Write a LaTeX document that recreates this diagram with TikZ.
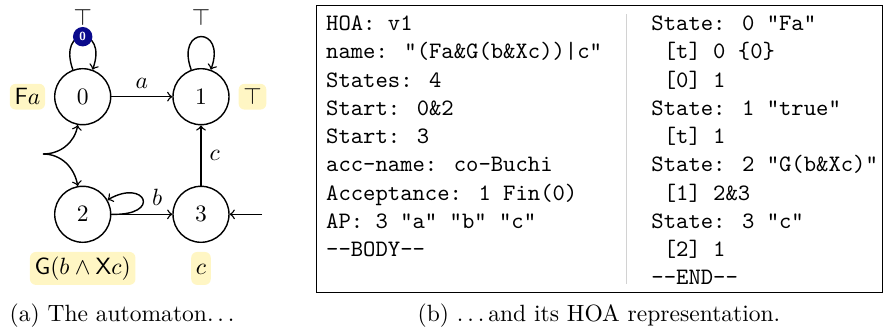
\documentclass[tikz,border=0pt]{standalone}
\usepackage{amssymb}
\usetikzlibrary{
    arrows,
    calc,
    positioning
}
\definecolor{hilite}{RGB}{255,246,196}
\definecolor{accblue}{RGB}{10,10,140}
\newcommand{\hoadash}{-\kern0pt-}
\newcommand{\spdots}{.\kern\fontdimen3\font.\kern\fontdimen3\font.\kern\fontdimen3\font}

\begin{document}
\begin{tikzpicture}[x=0.425pt, y=-0.425pt,
    state/.style={draw, circle, minimum size=23.8pt, inner sep=0pt},
    hl/.style={fill=hilite, rounded corners=2.5pt, inner sep=2pt},
    accmark/.style={circle, fill=accblue, text=white, inner sep=1.3pt, font=\sffamily\bfseries\tiny},
    hoa/.style={anchor=north west, inner sep=0pt, align=left, font=\ttfamily}]
    \useasboundingbox (0, 0) rectangle (883, 331);
    \begin{scope}[semithick]
        \node[state] (s0) at (82.7, 96.7) {$0$};
        \node[state] (s1) at (201, 96.7) {$1$};
        \node[state] (s2) at (82.7, 214.3) {$2$};
        \node[state] (s3) at (201, 214.3) {$3$};
        \node[hl, left=3.5pt of s0] (l0) {$\mathsf{F}a$};
        \node[hl, right=3.5pt of s1] (l1) {$\top$};
        \node[hl, below=3.5pt of s2] (l2) {$\mathsf{G}(b \land \mathsf{X}c)$};
        \node[hl, below=3.5pt of s3] (l3) {$c\vphantom{(}$};
        \coordinate (init) at (43, 154);
        \coordinate (init3) at (262, 214.3);
        \draw[->] (s0) to[out=110, in=70, looseness=1, min distance=7mm] node[above=1pt] (t0) {$\top$} node[accmark] (acc0) {0} (s0);
        \draw[->] (s1) to[out=110, in=70, looseness=1, min distance=7mm] node[above=1pt] (t1) {$\top$} (s1);
        \draw
        (s0) edge[->, above] node (la) {$a$} (s1)
        (s3) edge[->, right] node (lc) {$c$} (s1)
        (s2) edge[->] node[above, pos=0.75] (lb) {$b$} (s3)
        (init) edge[->, out=0, in=-100] (s0)
        (init) edge[->, out=0, in=100] (s2)
        (init3) edge[->] (s3);
        \draw[->] (s2.east) .. controls +(51, 1.7) and +(38, -22) .. (s2.30);
    \end{scope}
    % HOA text
    \draw (316.5, 5) rectangle (882, 292);
    \draw[gray!35] (626.5, 14) -- (626.5, 284);
    \node[hoa] (hoaleft) at (325.7, 15.5) {HOA: v1\\
        name: "(Fa\&G(b\&Xc))|c"\\
        States: 4\\
        Start: 0\&2\\
        Start: 3\\
        acc-name: co-Buchi\\
        Acceptance: 1 Fin(0)\\
        AP: 3 "a" "b" "c"\\
        \hoadash BODY\hoadash};
    \node[hoa] (hoaright) at (651, 15.5) {State: 0 "Fa"\\
        \ [t] 0 \{0\}\\
        \ [0] 1\\
        State: 1 "true"\\
        \ [t] 1\\
        State: 2 "G(b\&Xc)"\\
        \ [1] 2\&3\\
        State: 3 "c"\\
        \ [2] 1\\
        \hoadash END\hoadash};
    \node[anchor=base] (capa) at (124, 321) {(a) The automaton\spdots};
    \node[anchor=base] (capb) at (599, 321) {(b) \spdots and its HOA representation.};
\end{tikzpicture}
\end{document}
